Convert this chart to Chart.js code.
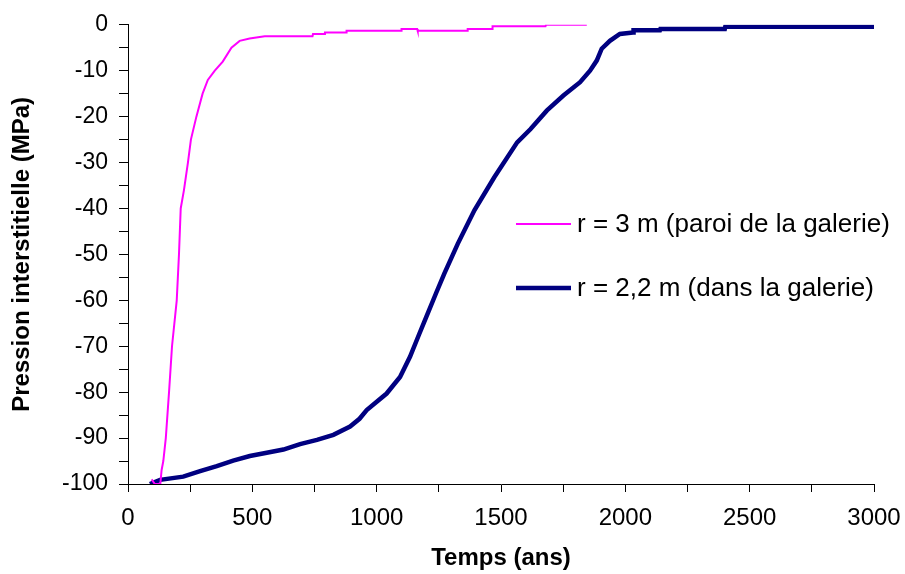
<!DOCTYPE html>
<html>
<head>
<meta charset="utf-8">
<script src="https://cdn.jsdelivr.net/npm/chart.js@4/dist/chart.umd.min.js"></script>
<style>
  html, body { margin: 0; padding: 0; background: #fff; }
  #wrap { width: 905px; height: 574px; position: relative; }
</style>
</head>
<body>
<div id="wrap"><canvas id="chart"></canvas></div>
<script>
// === Data ===
const wallTimes = [95, 108, 130, 135, 142, 152, 165, 177, 196, 205, 212, 225, 241, 253, 275, 300, 321, 349, 381, 416, 449, 489, 550, 742, 744, 790, 792, 877, 879, 1098, 1100, 1163, 1165, 1364, 1366, 1464, 1466, 1679, 1681, 1845];
const wallPressure = [-99, -100, -100, -97, -95, -90, -80, -70, -60, -50, -40, -36, -30, -25, -20, -15, -12, -10, -8, -5, -3.5, -3, -2.5, -2.5, -2, -2, -1.7, -1.7, -1.3, -1.3, -0.9, -0.9, -1.3, -1.3, -0.9, -0.9, -0.3, -0.3, 0, 0];

const innerTimes = [88, 129, 222, 290, 357, 423, 490, 558, 625, 692, 760, 826, 893, 931, 960, 1040, 1094, 1134, 1170, 1205, 1240, 1272, 1326, 1393, 1473, 1565, 1619, 1684, 1751, 1818, 1858, 1885, 1905, 1938, 1978, 2031, 2033, 2139, 2141, 2400, 2402, 3000];
const innerPressure = [-100, -99.1, -98.4, -97.2, -96.1, -94.9, -93.9, -93.2, -92.5, -91.3, -90.4, -89.3, -87.5, -85.8, -83.9, -80.3, -76.7, -72.3, -67.5, -62.9, -58.3, -54.2, -47.7, -40.4, -33.2, -25.6, -22.7, -18.7, -15.4, -12.5, -10, -7.8, -5.2, -3.5, -2, -1.7, -1.2, -1.2, -0.9, -0.9, -0.4, -0.4];

const seriesLabels = ["r = 3 m (paroi de la galerie)", "r = 2,2 m (dans la galerie)"];
const xTickLabels = [0, 500, 1000, 1500, 2000, 2500, 3000];
const yTickLabels = [0, -10, -20, -30, -40, -50, -60, -70, -80, -90, -100];

const toPoints = (xs, ys) => xs.map((x, i) => ({ x, y: ys[i] }));

// legend drawn inside the plot, like the original
const insideLegend = {
  id: "insideLegend",
  afterDraw(chart) {
    const ctx = chart.ctx;
    const rows = [224, 288];
    ctx.save();
    ctx.font = "26px 'Liberation Sans', Arial, sans-serif";
    ctx.fillStyle = "#000";
    ctx.textBaseline = "middle";
    ctx.textAlign = "left";
    chart.data.datasets.forEach((ds, i) => {
      const y = rows[i];
      ctx.strokeStyle = ds.borderColor;
      ctx.lineWidth = ds.borderWidth;
      ctx.beginPath();
      ctx.moveTo(516, y);
      ctx.lineTo(571, y);
      ctx.stroke();
      ctx.fillText(ds.label, 577, y + 1);
    });
    ctx.restore();
  },
};

new Chart(document.getElementById("chart"), {
  type: "line",
  data: {
    datasets: [
      {
        label: seriesLabels[0],
        data: toPoints(wallTimes, wallPressure),
        borderColor: "#FF00FF",
        borderWidth: 2,
        pointRadius: 0,
        tension: 0,
      },
      {
        label: seriesLabels[1],
        data: toPoints(innerTimes, innerPressure),
        borderColor: "#000080",
        borderWidth: 4.5,
        pointRadius: 0,
        tension: 0,
      },
    ],
  },
  options: {
    responsive: true,
    maintainAspectRatio: false,
    animation: false,
    layout: { padding: { top: 24, right: 31, bottom: 0, left: 0 } },
    plugins: { legend: { display: false }, tooltip: { enabled: false } },
    scales: {
      x: {
        type: "linear",
        min: 0,
        max: 3000,
        afterFit: (s) => {
          s.height = 90;
          s.paddingLeft = 0;
          s.paddingRight = 0;
        },
        border: { display: true, color: "#000", width: 1 },
        grid: { drawOnChartArea: false, color: "#000", tickLength: 8 },
        ticks: {
          stepSize: 250,
          autoSkip: false,
          maxRotation: 0,
          padding: 12,
          color: "#000",
          font: { family: "'Liberation Sans', Arial, sans-serif", size: 24 },
          callback: (v) => (xTickLabels.includes(v) ? String(v) : ""),
        },
        title: {
          display: true,
          text: "Temps (ans)",
          color: "#000",
          padding: { top: 0, bottom: 1 },
          font: { family: "'Liberation Sans', Arial, sans-serif", size: 24, weight: "bold" },
        },
      },
      y: {
        min: -100,
        max: 0,
        afterFit: (s) => { s.width = 128; },
        border: { display: true, color: "#000", width: 1 },
        grid: { drawOnChartArea: false, color: "#000", tickLength: 9 },
        ticks: {
          stepSize: 5,
          autoSkip: false,
          padding: 11,
          color: "#000",
          font: { family: "'Liberation Sans', Arial, sans-serif", size: 23 },
          callback: (v) => (yTickLabels.includes(v) ? String(v) : ""),
        },
        title: {
          display: true,
          text: "Pression interstitielle (MPa)",
          color: "#000",
          padding: { top: 8, bottom: 0 },
          font: { family: "'Liberation Sans', Arial, sans-serif", size: 24, weight: "bold" },
        },
      },
    },
  },
  plugins: [insideLegend],
});
</script>
</body>
</html>
